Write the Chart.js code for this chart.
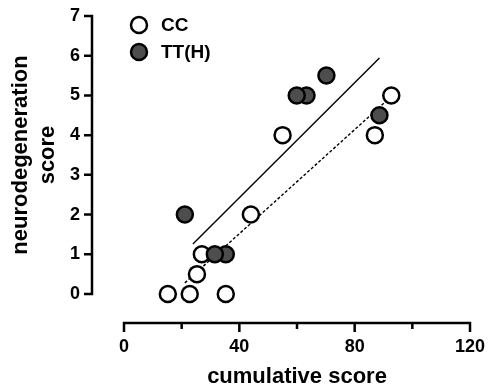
<!DOCTYPE html>
<html>
<head>
<meta charset="utf-8">
<script src="https://cdn.jsdelivr.net/npm/chart.js@4"></script>
<style>
  html, body { margin: 0; padding: 0; background: #fff; }
</style>
</head>
<body>
<canvas id="c" width="488" height="386"></canvas>
<script>
/* ── data ── */
const ccX = [15.2, 22.8, 35.3, 25.3, 27.0, 44.0, 55.0, 87.0, 92.7];
const ccY = [0, 0, 0, 0.5, 1, 2, 4, 4, 5];
const ttX = [21.1, 35.3, 31.5, 63.3, 59.9, 70.2, 88.6];
const ttY = [2, 1, 1, 5, 5, 5.5, 4.5];

// regression lines (end points)
const fitTTX = [23.9, 88.6];
const fitTTY = [1.26, 5.94];
const fitCCX = [21.1, 91.0];
const fitCCY = [0.28, 4.86];

const xTicks  = [0, 20, 40, 60, 80, 100, 120];
const xLabels = [0, 40, 80, 120];
const yTicks  = [0, 1, 2, 3, 4, 5, 6, 7];

const xTitle = 'cumulative score';
const yTitle = ['neurodegeneration', 'score'];

const FONT = 'Liberation Sans, Arial, Helvetica, sans-serif';
const pts = (xs, ys) => xs.map((x, i) => ({ x, y: ys[i] }));

/* ── Prism-style detached axes, legend and titles ── */
const prismPlugin = {
  id: 'prism',
  afterDraw(chart) {
    const { ctx, chartArea: ca, scales: { x, y } } = chart;
    ctx.save();
    ctx.strokeStyle = '#000';
    ctx.lineWidth = 2.5;
    ctx.lineCap = 'butt';

    // y axis
    const yTop = y.getPixelForValue(yTicks[yTicks.length - 1]);
    const yBot = y.getPixelForValue(yTicks[0]);
    ctx.beginPath();
    ctx.moveTo(ca.left, yTop - 1.25);
    ctx.lineTo(ca.left, yBot + 1.25);
    yTicks.forEach(v => {
      const p = y.getPixelForValue(v);
      ctx.moveTo(ca.left - 8, p);
      ctx.lineTo(ca.left, p);
    });
    ctx.stroke();

    // x axis
    const xL = x.getPixelForValue(xTicks[0]);
    const xR = x.getPixelForValue(xTicks[xTicks.length - 1]);
    ctx.beginPath();
    ctx.moveTo(xL - 1.25, ca.bottom);
    ctx.lineTo(xR + 1.25, ca.bottom);
    xTicks.forEach(v => {
      const p = x.getPixelForValue(v);
      const len = xLabels.includes(v) ? 9 : 6;
      ctx.moveTo(p, ca.bottom);
      ctx.lineTo(p, ca.bottom + len);
    });
    ctx.stroke();

    // titles
    ctx.fillStyle = '#000';
    ctx.font = 'bold 22px ' + FONT;
    ctx.textAlign = 'center';
    ctx.textBaseline = 'alphabetic';
    ctx.fillText(xTitle, (xL + xR) / 2, 383);

    ctx.save();
    ctx.translate(0, (yTop + yBot) / 2);
    ctx.rotate(-Math.PI / 2);
    ctx.textBaseline = 'middle';
    ctx.fillText(yTitle[0], 0, 21);
    ctx.fillText(yTitle[1], 0, 48);
    ctx.restore();

    // legend
    ctx.font = 'bold 19px ' + FONT;
    ctx.textAlign = 'left';
    ctx.textBaseline = 'middle';
    [0, 1].forEach(i => {
      const ds = chart.data.datasets[i];
      const cy = 25 + i * 27;
      ctx.beginPath();
      ctx.arc(139, cy, 8, 0, Math.PI * 2);
      ctx.fillStyle = ds.pointBackgroundColor;
      ctx.fill();
      ctx.lineWidth = ds.pointBorderWidth;
      ctx.strokeStyle = ds.pointBorderColor;
      ctx.stroke();
      ctx.fillStyle = '#000';
      ctx.fillText(ds.label, 161, cy + 1);
    });
    ctx.restore();
  }
};

const tickFont = { family: FONT, size: 18, weight: 'bold' };

new Chart(document.getElementById('c'), {
  type: 'scatter',
  data: {
    datasets: [
      {
        label: 'CC',
        data: pts(ccX, ccY),
        pointRadius: 8,
        pointHoverRadius: 8,
        pointBackgroundColor: '#ffffff',
        pointBorderColor: '#000000',
        pointBorderWidth: 2.5,
        order: 2,
      },
      {
        label: 'TT(H)',
        data: pts(ttX, ttY),
        pointRadius: 8,
        pointHoverRadius: 8,
        pointBackgroundColor: '#4d4d4d',
        pointBorderColor: '#000000',
        pointBorderWidth: 2.5,
        order: 1,
      },
      {
        label: 'fit TT(H)',
        type: 'line',
        data: pts(fitTTX, fitTTY),
        borderColor: '#000',
        borderWidth: 1.4,
        pointRadius: 0,
        fill: false,
        order: 3,
      },
      {
        label: 'fit CC',
        type: 'line',
        data: pts(fitCCX, fitCCY),
        borderColor: '#000',
        borderWidth: 1.4,
        borderDash: [3, 2],
        pointRadius: 0,
        fill: false,
        order: 3,
      },
    ],
  },
  options: {
    responsive: false,
    animation: false,
    devicePixelRatio: 1,
    layout: { padding: { top: 16, right: 18, left: 0, bottom: 0 } },
    plugins: {
      legend: { display: false },
      tooltip: { enabled: false },
    },
    scales: {
      x: {
        type: 'linear',
        min: -11.1,
        max: 120,
        afterBuildTicks: s => { s.ticks = xTicks.map(v => ({ value: v })); },
        afterFit: s => { s.height = 63; s.paddingLeft = 0; s.paddingRight = 0; },
        grid: { display: false },
        border: { display: false },
        ticks: {
          autoSkip: false,
          maxRotation: 0,
          padding: 5,
          color: '#000',
          font: tickFont,
          callback: v => xLabels.includes(v) ? String(v) : '',
        },
      },
      y: {
        type: 'linear',
        min: -0.73,
        max: 7,
        afterBuildTicks: s => { s.ticks = yTicks.map(v => ({ value: v })); },
        afterFit: s => { s.width = 92; s.paddingTop = 0; s.paddingBottom = 0; },
        grid: { display: false },
        border: { display: false },
        ticks: {
          autoSkip: false,
          padding: 4,
          color: '#000',
          font: tickFont,
        },
      },
    },
  },
  plugins: [prismPlugin],
});
</script>
</body>
</html>
